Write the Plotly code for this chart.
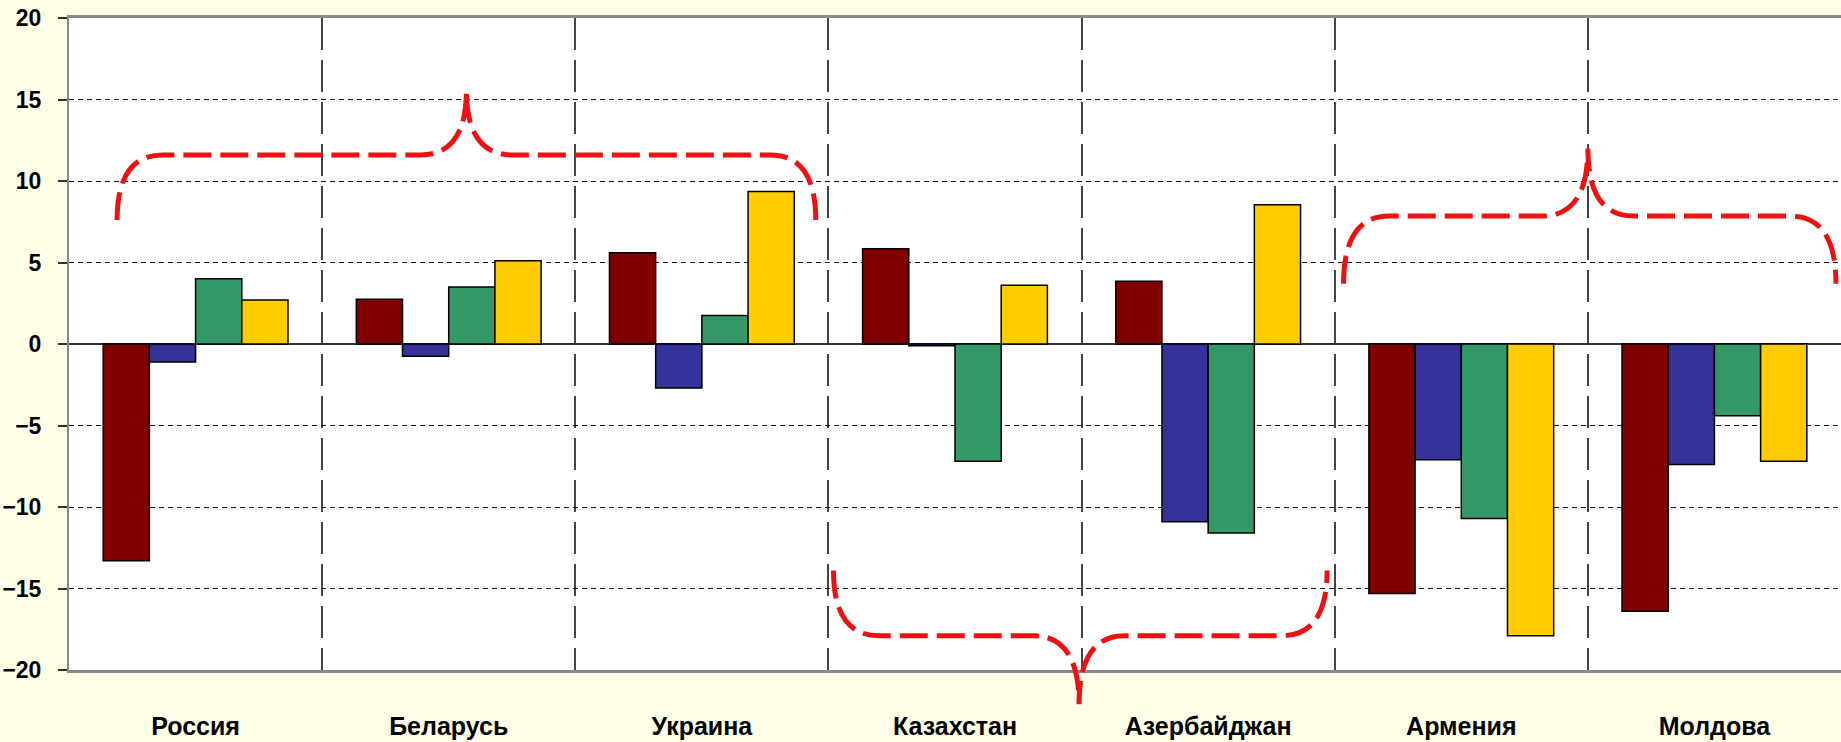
import plotly.graph_objects as go

# Data
countries = ["Россия", "Беларусь", "Украина", "Казахстан", "Азербайджан", "Армения", "Молдова"]
series_1 = [-13.3, 2.75, 5.6, 5.85, 3.85, -15.3, -16.4]
series_2 = [-1.1, -0.75, -2.7, -0.1, -10.9, -7.1, -7.4]
series_3 = [4.0, 3.5, 1.75, -7.2, -11.6, -10.7, -4.4]
series_4 = [2.7, 5.1, 9.35, 3.6, 8.55, -17.9, -7.2]
y_ticks = [-20, -15, -10, -5, 0, 5, 10, 15, 20]

colors = ["#800000", "#333399", "#339966", "#FFCC00"]
Y_RANGE = [-20, 20]

fig = go.Figure()
for vals, col in zip([series_1, series_2, series_3, series_4], colors):
    fig.add_trace(go.Bar(
        x=countries, y=vals,
        marker=dict(color=col, line=dict(color="black", width=1.5)),
        showlegend=False,
    ))


def brace_path(x_left, x_right, x_tip, y_line, y_end, y_tip, dx=0.18):
    # curly brace drawn with quadratic curves
    return (f"M {x_left},{y_end} Q {x_left},{y_line} {x_left + dx},{y_line} "
            f"L {x_tip - dx},{y_line} Q {x_tip},{y_line} {x_tip},{y_tip} "
            f"Q {x_tip},{y_line} {x_tip + dx},{y_line} "
            f"L {x_right - dx},{y_line} Q {x_right},{y_line} {x_right},{y_end}")


def to_paper(v):
    return (v - Y_RANGE[0]) / (Y_RANGE[1] - Y_RANGE[0])


brace_line = dict(color="#EE1111", width=5, dash="28px,9px")

fig.add_shape(type="path", xref="x", yref="y", line=brace_line,
              path=brace_path(-0.31, 2.45, 1.07, 11.6, 7.6, 15.6))
fig.add_shape(type="path", xref="x", yref="paper", line=brace_line,
              path=brace_path(2.52, 4.47, 3.49, to_paper(-17.9), to_paper(-13.9), to_paper(-22.1)))
fig.add_shape(type="path", xref="x", yref="y", line=brace_line,
              path=brace_path(4.535, 6.48, 5.5, 7.85, 3.7, 12.0))

fig.update_layout(
    width=1841, height=742,
    margin=dict(l=69, r=0, t=18, b=72),
    paper_bgcolor="#FFFFE8",
    plot_bgcolor="white",
    barmode="group",
    bargap=0.27,
    bargroupgap=0,
    font=dict(family="Liberation Sans, Arial, sans-serif", color="black"),
)

fig.update_xaxes(
    type="category",
    range=[-0.5, len(countries) - 0.5],
    tickson="boundaries",
    showgrid=True, gridcolor="#444444", griddash="32px,10px", gridwidth=1.5,
    ticks="", showline=True, linecolor="#888888", linewidth=3, mirror=True,
    tickfont=dict(size=25, weight="bold"),
    ticklabelstandoff=32,
    automargin=False,
)
fig.update_yaxes(
    range=Y_RANGE,
    tickvals=y_ticks,
    showgrid=True, gridcolor="#111111", griddash="5px,4px", gridwidth=1,
    zeroline=True, zerolinecolor="#333333", zerolinewidth=1.5,
    ticks="outside", ticklen=9, tickcolor="#333333", tickwidth=1.5,
    showline=True, linecolor="#888888", linewidth=2, mirror=True,
    tickfont=dict(size=23, weight="bold"),
    ticklabelstandoff=12,
    automargin=False,
)

# remove the default page margin so the figure fills the window
fig.write_html("out.html", config={"displayModeBar": False},
               post_script="document.body.style.margin='0';")
